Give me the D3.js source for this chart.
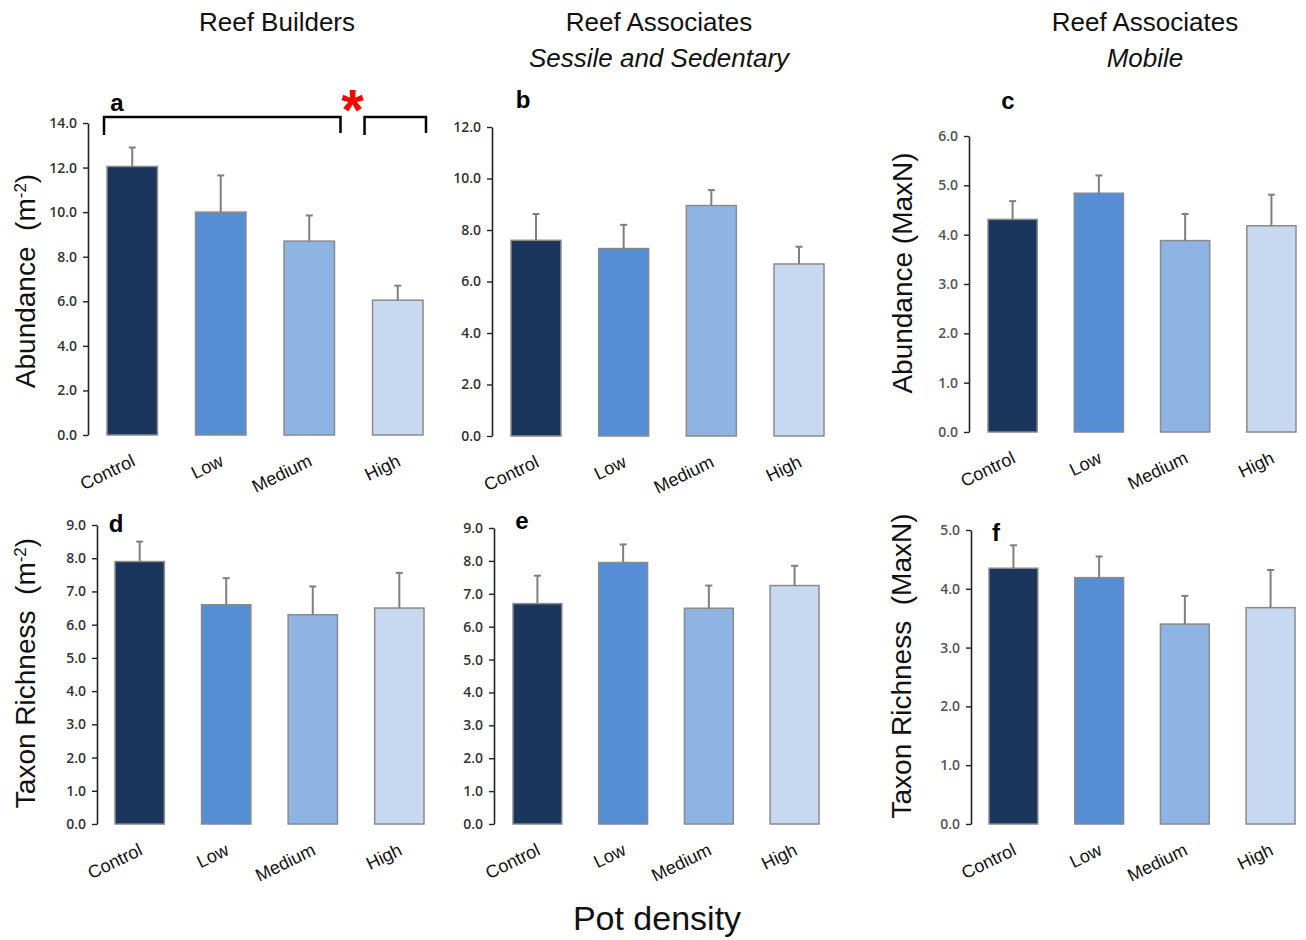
<!DOCTYPE html>
<html lang="en">
<head>
<meta charset="UTF-8">
<title>Pot density</title>
<script src="https://d3js.org/d3.v7.min.js"></script>
<style>
  body { margin: 0; background: #fff; }
  svg { display: block; }
</style>
</head>
<body>
<svg id="fig" width="1306" height="940"></svg>
<script>
// categories shared by every panel
const categories = ["Control", "Low", "Medium", "High"];
const barColors = ["#1b365d", "#558ed5", "#8eb4e3", "#c6d9f1"];

// means and upper error (mean + SE)
const aMeans = [12.05, 10.0, 8.7, 6.05];
const aUpper = [12.9, 11.65, 9.85, 6.7];
const bMeans = [7.6, 7.28, 8.95, 6.68];
const bUpper = [8.62, 8.2, 9.55, 7.35];
const cMeans = [4.31, 4.84, 3.88, 4.18];
const cUpper = [4.68, 5.2, 4.42, 4.81];
const dMeans = [7.9, 6.6, 6.3, 6.5];
const dUpper = [8.5, 7.4, 7.15, 7.56];
const eMeans = [6.7, 7.95, 6.56, 7.25];
const eUpper = [7.55, 8.5, 7.25, 7.85];
const fMeans = [4.35, 4.19, 3.4, 3.68];
const fUpper = [4.74, 4.55, 3.88, 4.32];

const columnTitles = ["Reef Builders", "Reef Associates", "Reef Associates"];
const columnSubtitles = ["", "Sessile and Sedentary", "Mobile"];

const svg = d3.select("#fig");
const sans = "'Liberation Sans', Arial, sans-serif";

// panel layout (pixels)
const panels = [
  { id: "a", means: aMeans, upper: aUpper, max: 14, step: 2, axisX: 88, x0: 107, x1: 423, yTop: 123, yBase: 435,
    letter: [117, 111], ylab: ["Abundance  (m", "-2", ")"], ylabX: 35, ylabY: 281, tickFill: "#333" },
  { id: "b", means: bMeans, upper: bUpper, max: 12, step: 2, axisX: 492, x0: 511, x1: 824, yTop: 127, yBase: 436,
    letter: [523, 108], tickFill: "#333" },
  { id: "c", means: cMeans, upper: cUpper, max: 6, step: 1, axisX: 969, x0: 988, x1: 1296, yTop: 136, yBase: 432,
    letter: [1008, 109], ylab: ["Abundance (MaxN)"], ylabX: 912, ylabY: 273, tickFill: "#555" },
  { id: "d", means: dMeans, upper: dUpper, max: 9, step: 1, axisX: 97, x0: 115, x1: 424, yTop: 525, yBase: 824,
    letter: [116, 532], ylab: ["Taxon Richness  (m", "-2", ")"], ylabX: 35, ylabY: 673, tickFill: "#333" },
  { id: "e", means: eMeans, upper: eUpper, max: 9, step: 1, axisX: 494, x0: 513, x1: 819, yTop: 528, yBase: 824,
    letter: [522, 529], tickFill: "#333" },
  { id: "f", means: fMeans, upper: fUpper, max: 5, step: 1, axisX: 971, x0: 989, x1: 1295, yTop: 530, yBase: 824,
    letter: [996, 541], ylab: ["Taxon Richness  (MaxN)"], ylabX: 911, ylabY: 666, tickFill: "#555" }
];

panels.forEach(p => {
  const g = svg.append("g").attr("class", "panel-" + p.id);

  const x = d3.scaleBand()
    .domain(categories)
    .range([p.x0, p.x1])
    .paddingInner(0.43)
    .paddingOuter(0);

  const y = d3.scaleLinear()
    .domain([0, p.max])
    .range([p.yBase, p.yTop]);

  p.x = x; p.y = y;

  // y axis
  const ticks = d3.range(0, p.max + p.step / 2, p.step);
  const ax = g.append("g")
    .attr("transform", `translate(${p.axisX},0)`)
    .call(d3.axisLeft(y).tickValues(ticks).tickFormat(d3.format(".1f")).tickSize(5).tickSizeOuter(0).tickPadding(6));
  ax.select(".domain").attr("stroke", "#222").attr("stroke-width", 1.6);
  ax.selectAll(".tick line").attr("stroke", "#222").attr("stroke-width", 1.4);
  ax.selectAll(".tick text")
    .attr("fill", p.tickFill)
    .style("font-family", "'Open Sans', sans-serif")
    .style("font-size", "14px")
    .style("font-weight", 600);

  const rows = categories.map((c, i) => ({ cat: c, mean: p.means[i], up: p.upper[i], color: barColors[i] }));

  // bars
  g.selectAll("rect.bar")
    .data(rows)
    .enter().append("rect")
    .attr("class", "bar")
    .attr("x", d => x(d.cat))
    .attr("width", x.bandwidth())
    .attr("y", d => y(d.mean))
    .attr("height", d => y(0) - y(d.mean))
    .attr("fill", d => d.color)
    .attr("stroke", "#8a8a8a")
    .attr("stroke-width", 1.5);

  // error bars (upper only)
  const eb = g.selectAll("g.err")
    .data(rows)
    .enter().append("g")
    .attr("class", "err")
    .attr("stroke", "#7f7f7f")
    .attr("stroke-width", 2);
  eb.append("line")
    .attr("x1", d => x(d.cat) + x.bandwidth() / 2)
    .attr("x2", d => x(d.cat) + x.bandwidth() / 2)
    .attr("y1", d => y(d.mean))
    .attr("y2", d => y(d.up));
  eb.append("line")
    .attr("x1", d => x(d.cat) + x.bandwidth() / 2 - 3.5)
    .attr("x2", d => x(d.cat) + x.bandwidth() / 2 + 3.5)
    .attr("y1", d => y(d.up))
    .attr("y2", d => y(d.up));

  // category labels
  g.selectAll("text.cat")
    .data(categories)
    .enter().append("text")
    .attr("class", "cat")
    .attr("text-anchor", "end")
    .attr("transform", d => `translate(${x(d) + x.bandwidth() / 2 + 4},${p.yBase + 30}) rotate(-26)`)
    .style("font-family", sans)
    .style("font-size", "18px")
    .attr("fill", "#111")
    .text(d => d);

  // panel letter
  g.append("text")
    .attr("x", p.letter[0])
    .attr("y", p.letter[1])
    .attr("text-anchor", "middle")
    .style("font-family", sans)
    .style("font-size", "24px")
    .style("font-weight", "bold")
    .text(p.id);

  // y axis title
  if (p.ylab) {
    const t = g.append("text")
      .attr("transform", `translate(${p.ylabX},${p.ylabY}) rotate(-90)`)
      .attr("text-anchor", "middle")
      .style("font-family", sans)
      .style("font-size", "28px")
      .style("white-space", "pre")
      .attr("fill", "#111");
    t.append("tspan").text(p.ylab[0]);
    if (p.ylab.length > 1) {
      t.append("tspan").attr("baseline-shift", "super").style("font-size", "17px").text(p.ylab[1]);
      t.append("tspan").text(p.ylab[2]);
    }
  }
});

// significance brackets on panel a
const pa = panels[0];
const bw = pa.x.bandwidth();
const brackets = [
  [pa.x("Control") - 3, pa.x("Medium") + bw + 6],
  [pa.x("High") - 8, pa.x("High") + bw + 3]
];
svg.append("g")
  .selectAll("path")
  .data(brackets)
  .enter().append("path")
  .attr("d", d => `M${d[0]},${135}V${117}H${d[1]}V${133}`)
  .attr("fill", "none")
  .attr("stroke", "#000")
  .attr("stroke-width", 2.5);

svg.append("text")
  .attr("x", (brackets[0][1] + brackets[1][0]) / 2)
  .attr("y", 130)
  .attr("text-anchor", "middle")
  .style("font-family", sans)
  .style("font-size", "58px")
  .style("font-weight", "bold")
  .attr("fill", "#ff0000")
  .text("*");

// column titles
const titleX = [277, 659, 1145];
svg.selectAll("text.coltitle")
  .data(columnTitles)
  .enter().append("text")
  .attr("class", "coltitle")
  .attr("x", (d, i) => titleX[i])
  .attr("y", 31)
  .attr("text-anchor", "middle")
  .style("font-family", sans)
  .style("font-size", "26px")
  .attr("fill", "#111")
  .text(d => d);

svg.selectAll("text.colsub")
  .data(columnSubtitles)
  .enter().append("text")
  .attr("class", "colsub")
  .attr("x", (d, i) => titleX[i])
  .attr("y", 67)
  .attr("text-anchor", "middle")
  .style("font-family", sans)
  .style("font-size", "26px")
  .style("font-style", "italic")
  .attr("fill", "#111")
  .text(d => d);

// shared x axis title
svg.append("text")
  .attr("x", 657)
  .attr("y", 930)
  .attr("text-anchor", "middle")
  .style("font-family", sans)
  .style("font-size", "34px")
  .attr("fill", "#111")
  .text("Pot density");
</script>
</body>
</html>
